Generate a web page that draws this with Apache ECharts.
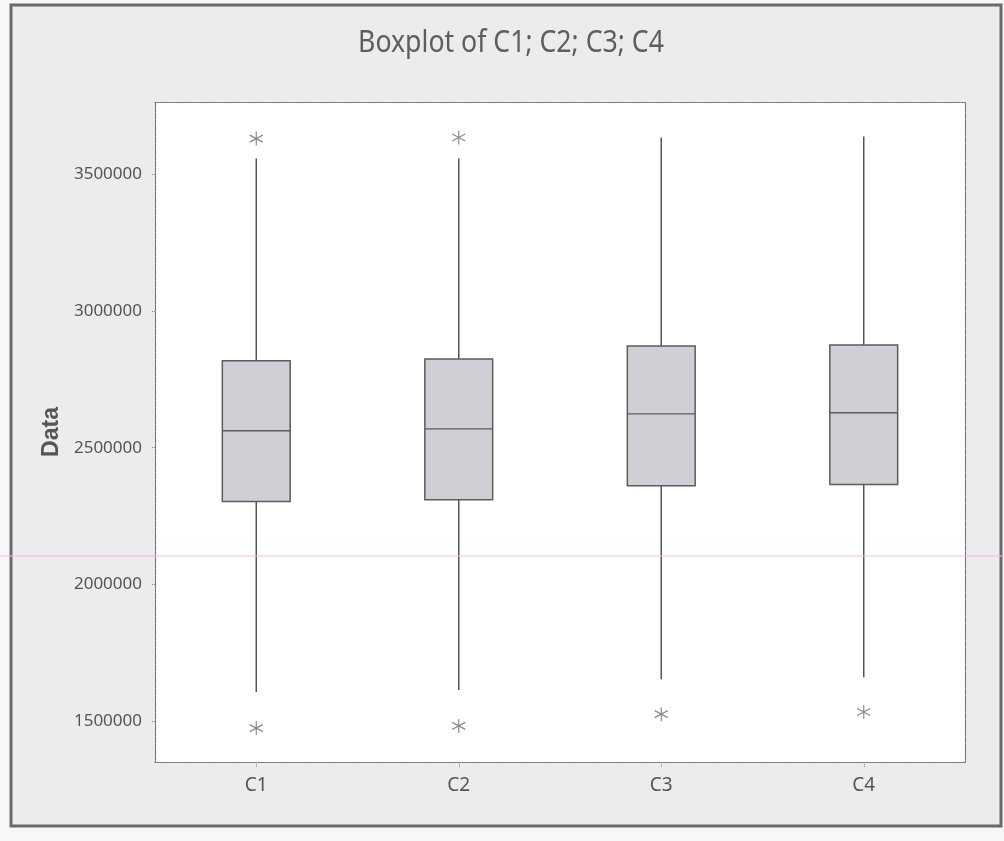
<!DOCTYPE html>
<html>
<head>
<meta charset="utf-8">
<script src="https://cdn.jsdelivr.net/npm/echarts@6/dist/echarts.min.js"></script>
<style>
  html, body { margin: 0; padding: 0; background: #f7f7f7; }
  #chart { width: 1004px; height: 841px; }
</style>
</head>
<body>
<div id="chart"></div>
<script>
// ---- data ----
const categories = ['C1', 'C2', 'C3', 'C4'];
const whiskerLow  = [1606000, 1613000, 1653000, 1660000];
const q1Values    = [2303000, 2310000, 2361000, 2365000];
const medians     = [2562000, 2569000, 2624000, 2628000];
const q3Values    = [2818000, 2825000, 2872000, 2876000];
const whiskerHigh = [3558000, 3558000, 3635000, 3639000];
const outlierCategory = [0, 0, 1, 1, 2, 3];
const outlierValues   = [3631000, 1474000, 3635000, 1482000, 1525000, 1533000];
const yTicks = [1500000, 2000000, 2500000, 3000000, 3500000];
const titleText = 'Boxplot of C1; C2; C3; C4';
const yAxisName = 'Data';

const boxData = categories.map((c, i) => [i, whiskerLow[i], q1Values[i], medians[i], q3Values[i], whiskerHigh[i]]);
const outlierData = outlierCategory.map((c, i) => [c, outlierValues[i]]);

const textColor = '#555555';
const font = '"Noto Sans", "Open Sans", sans-serif';

const chart = echarts.init(document.getElementById('chart'), null, { renderer: 'canvas' });

function renderBox(params, api) {
  const idx = api.value(0);
  const pLow = api.coord([idx, api.value(1)]);
  const pQ1 = api.coord([idx, api.value(2)]);
  const pMed = api.coord([idx, api.value(3)]);
  const pQ3 = api.coord([idx, api.value(4)]);
  const pHigh = api.coord([idx, api.value(5)]);
  const bw = api.size([1, 0])[0] * 0.335;
  const x = pMed[0];
  const lineStyle = { stroke: '#4a4a4a', lineWidth: 1.4 };
  return {
    type: 'group',
    children: [
      { type: 'line', shape: { x1: x, y1: pLow[1], x2: x, y2: pQ1[1] }, style: lineStyle },
      { type: 'line', shape: { x1: x, y1: pQ3[1], x2: x, y2: pHigh[1] }, style: lineStyle },
      { type: 'rect', shape: { x: x - bw / 2, y: pQ3[1], width: bw, height: pQ1[1] - pQ3[1] },
        style: { fill: '#cfcfd5', stroke: '#5c5c5c', lineWidth: 1.5 } },
      { type: 'line', shape: { x1: x - bw / 2, y1: pMed[1], x2: x + bw / 2, y2: pMed[1] },
        style: { stroke: '#5c5c5c', lineWidth: 1.4 } }
    ]
  };
}

const option = {
  backgroundColor: '#f7f7f7',
  animation: false,
  graphic: [
    { type: 'rect', z: -10, shape: { x: 11, y: 5, width: 990, height: 821 },
      style: { fill: '#ececec', stroke: '#6a6a6a', lineWidth: 3 } },
    { type: 'line', z: 100, shape: { x1: 0, y1: 556, x2: 1004, y2: 556 },
      style: { stroke: '#eebdec', lineWidth: 1 } },
    { type: 'text', x: 511, y: 43, scaleX: 0.86, z: 10,
      style: { text: titleText, fontFamily: font, fontSize: 31, fill: '#5e5e5e',
               align: 'center', verticalAlign: 'middle' } }
  ],
  grid: {
    left: 155, right: 39, top: 102, bottom: 79,
    show: true, backgroundColor: '#ffffff', borderWidth: 0
  },
  xAxis: [
    {
      type: 'category',
      data: categories,
      boundaryGap: true,
      axisLine: { show: true, lineStyle: { color: '#707070', type: 'dotted', width: 1.2 } },
      axisTick: { show: true, alignWithLabel: true, length: 5, lineStyle: { color: '#808080', type: 'dotted' } },
      axisLabel: { margin: 14, fontFamily: font, fontSize: 19, color: textColor }
    },
    {
      type: 'category',
      data: categories,
      position: 'top',
      axisLine: { show: true, lineStyle: { color: '#707070', type: 'dotted', width: 1.2 } },
      axisTick: { show: false },
      axisLabel: { show: false }
    }
  ],
  yAxis: [
    {
      type: 'value',
      min: 1350000,
      max: 3765000,
      name: yAxisName,
      nameLocation: 'middle',
      nameGap: 90,
      nameTextStyle: { fontFamily: '"Liberation Sans", sans-serif', fontSize: 23, fontWeight: 'bold', color: textColor },
      axisLine: { show: true, lineStyle: { color: '#707070', type: 'dotted', width: 1.2 } },
      axisTick: { show: true, length: 4, customValues: yTicks, lineStyle: { color: '#808080', type: 'dotted' } },
      axisLabel: { margin: 13, customValues: yTicks, fontFamily: font, fontSize: 17, color: textColor,
                   formatter: v => String(v) },
      splitLine: { show: false }
    },
    {
      type: 'value',
      min: 1350000,
      max: 3765000,
      position: 'right',
      axisLine: { show: true, lineStyle: { color: '#707070', type: 'dotted', width: 1.2 } },
      axisTick: { show: false },
      axisLabel: { show: false },
      splitLine: { show: false }
    }
  ],
  series: [
    {
      type: 'custom',
      renderItem: renderBox,
      data: boxData,
      encode: { x: 0, y: [1, 2, 3, 4, 5] },
      z: 3
    },
    {
      type: 'scatter',
      data: outlierData,
      symbol: 'path://M0,-10L0,10M-8.66,-5L8.66,5M-8.66,5L8.66,-5',
      symbolSize: [13, 14],
      itemStyle: { color: 'rgba(0,0,0,0)', borderColor: '#6a6a6a', borderWidth: 1.2 },
      z: 4
    }
  ]
};

chart.setOption(option);
</script>
</body>
</html>
